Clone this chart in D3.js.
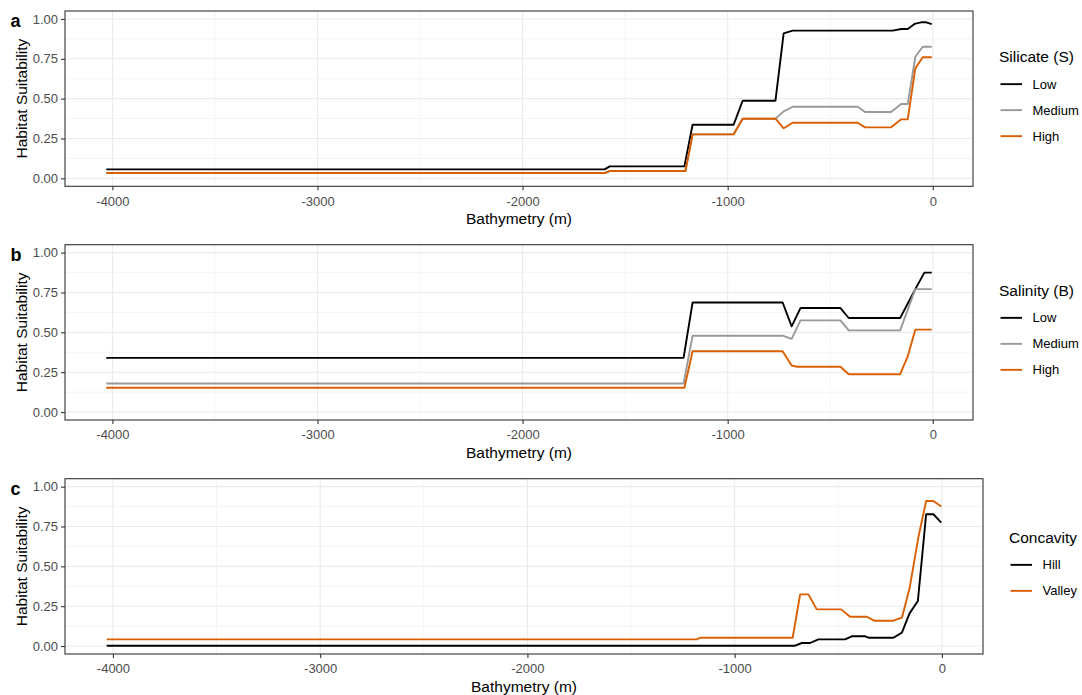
<!DOCTYPE html>
<html>
<head>
<meta charset="utf-8">
<script src="https://cdn.jsdelivr.net/npm/d3@7"></script>
<style>
  html, body { margin: 0; padding: 0; background: #fff; }
  svg text { font-family: "Liberation Sans", Arial, Helvetica, sans-serif; }
</style>
</head>
<body>
<svg id="chart" width="1082" height="695"></svg>
<script>
// Habitat suitability response curves along bathymetry (m)

// Tick values
const xTicks = [-4000, -3000, -2000, -1000, 0];
const xMinorTicks = [-3500, -2500, -1500, -500];
const yTicks = [0, 0.25, 0.5, 0.75, 1];
const yMinorTicks = [0.125, 0.375, 0.625, 0.875];

// Panel a: Silicate (S) — [depth, suitability]
const silicateLow = [[-4030, 0.056], [-1600, 0.056], [-1575, 0.075], [-1211, 0.075], [-1171, 0.336], [-971, 0.336], [-927, 0.487], [-767, 0.487], [-727, 0.910], [-683, 0.927], [-195, 0.927], [-154, 0.937], [-122, 0.937], [-89, 0.969], [-57, 0.979], [-32, 0.979], [-5, 0.967]];
const silicateMedium = [[-4030, 0.033], [-1600, 0.033], [-1575, 0.046], [-1206, 0.046], [-1171, 0.276], [-971, 0.276], [-927, 0.374], [-767, 0.374], [-727, 0.420], [-683, 0.449], [-366, 0.449], [-330, 0.416], [-203, 0.416], [-154, 0.466], [-122, 0.466], [-85, 0.763], [-49, 0.826], [-5, 0.826]];
const silicateHigh = [[-4030, 0.033], [-1600, 0.033], [-1575, 0.046], [-1206, 0.046], [-1171, 0.276], [-971, 0.276], [-927, 0.374], [-767, 0.374], [-727, 0.314], [-683, 0.349], [-366, 0.349], [-330, 0.320], [-203, 0.320], [-154, 0.370], [-122, 0.370], [-85, 0.690], [-49, 0.760], [-5, 0.760]];

// Panel b: Salinity (B)
const salinityLow = [[-4030, 0.340], [-1215, 0.340], [-1171, 0.6875], [-732, 0.6875], [-688, 0.5375], [-645, 0.6525], [-450, 0.6525], [-410, 0.590], [-159, 0.590], [-85, 0.771], [-41, 0.875], [-5, 0.875]];
const salinityMedium = [[-4030, 0.179], [-1215, 0.179], [-1171, 0.479], [-732, 0.479], [-688, 0.459], [-645, 0.575], [-450, 0.575], [-410, 0.5125], [-159, 0.5125], [-85, 0.771], [-5, 0.771]];
const salinityHigh = [[-4030, 0.152], [-1211, 0.152], [-1171, 0.381], [-732, 0.381], [-688, 0.292], [-661, 0.284], [-450, 0.284], [-410, 0.2375], [-159, 0.2375], [-122, 0.350], [-85, 0.517], [-5, 0.517]];

// Panel c: Concavity
const concavityHill = [[-4030, 0.002], [-708, 0.002], [-676, 0.019], [-636, 0.019], [-596, 0.042], [-467, 0.042], [-435, 0.061], [-370, 0.061], [-354, 0.052], [-234, 0.052], [-193, 0.084], [-156, 0.205], [-116, 0.282], [-76, 0.827], [-41, 0.827], [-3, 0.774]];
const concavityValley = [[-4030, 0.042], [-1183, 0.042], [-1167, 0.052], [-720, 0.052], [-684, 0.324], [-644, 0.324], [-604, 0.230], [-486, 0.230], [-443, 0.184], [-362, 0.184], [-327, 0.159], [-234, 0.159], [-193, 0.178], [-156, 0.362], [-113, 0.686], [-76, 0.910], [-41, 0.910], [-3, 0.875]];

const colLow = "#000000", colMid = "#999999", colHigh = "#d95f02";

const panels = [
  { tag: "a", top: 11, right: 973, legendTitle: "Silicate (S)",
    series: [
      { name: "Low", data: silicateLow, color: colLow },
      { name: "Medium", data: silicateMedium, color: colMid },
      { name: "High", data: silicateHigh, color: colHigh }] },
  { tag: "b", top: 244.7, right: 973, legendTitle: "Salinity (B)",
    series: [
      { name: "Low", data: salinityLow, color: colLow },
      { name: "Medium", data: salinityMedium, color: colMid },
      { name: "High", data: salinityHigh, color: colHigh }] },
  { tag: "c", top: 478.7, right: 983, legendTitle: "Concavity",
    series: [
      { name: "Hill", data: concavityHill, color: colLow },
      { name: "Valley", data: concavityValley, color: colHigh }] }
];

const svg = d3.select("#chart");
svg.append("rect").attr("width", 1082).attr("height", 695).attr("fill", "#fff");

const left = 65, panelH = 175.3;
const gridCol = "#ebebeb", frameCol = "#333333", tickTextCol = "#4d4d4d";

panels.forEach(p => {
  const bottom = p.top + panelH;
  const all = p.series.flatMap(s => s.data);
  const xExt = d3.extent(all, d => d[0]);
  const xPad = (xExt[1] - xExt[0]) * 0.05;
  const x = d3.scaleLinear().domain([xExt[0] - xPad, xExt[1] + xPad]).range([left, p.right]);
  const y = d3.scaleLinear().domain([-0.05, 1.05]).range([bottom, p.top]);

  const g = svg.append("g");

  // grid
  g.selectAll(".xminor").data(xMinorTicks).join("line")
    .attr("x1", d => x(d)).attr("x2", d => x(d)).attr("y1", p.top).attr("y2", bottom)
    .attr("stroke", gridCol).attr("stroke-width", 0.55);
  g.selectAll(".yminor").data(yMinorTicks).join("line")
    .attr("x1", left).attr("x2", p.right).attr("y1", d => y(d)).attr("y2", d => y(d))
    .attr("stroke", gridCol).attr("stroke-width", 0.55);
  g.selectAll(".xmajor").data(xTicks).join("line")
    .attr("x1", d => x(d)).attr("x2", d => x(d)).attr("y1", p.top).attr("y2", bottom)
    .attr("stroke", gridCol).attr("stroke-width", 1.1);
  g.selectAll(".ymajor").data(yTicks).join("line")
    .attr("x1", left).attr("x2", p.right).attr("y1", d => y(d)).attr("y2", d => y(d))
    .attr("stroke", gridCol).attr("stroke-width", 1.1);

  // curves
  const line = d3.line().x(d => x(d[0])).y(d => y(d[1]));
  p.series.forEach(s => {
    g.append("path").attr("d", line(s.data)).attr("fill", "none")
      .attr("stroke", s.color).attr("stroke-width", 1.9)
      .attr("stroke-linejoin", "round").attr("stroke-linecap", "butt");
  });

  // frame
  g.append("rect").attr("x", left).attr("y", p.top)
    .attr("width", p.right - left).attr("height", panelH)
    .attr("fill", "none").attr("stroke", frameCol).attr("stroke-width", 1.1);

  // axes
  const xAxis = d3.axisBottom(x).tickValues(xTicks).tickFormat(d3.format("d")).tickSizeInner(4).tickSizeOuter(0).tickPadding(3);
  const gx = g.append("g").attr("transform", `translate(0,${bottom})`).call(xAxis);
  gx.select(".domain").remove();
  gx.selectAll(".tick line").attr("stroke", frameCol).attr("stroke-width", 1.1);
  gx.selectAll(".tick text").attr("fill", tickTextCol).attr("font-size", "13px")
    .attr("font-family", null).attr("dy", "0.95em")
    .text(d => d < 0 ? "-" + Math.abs(d) : String(d));

  const yAxis = d3.axisLeft(y).tickValues(yTicks).tickFormat(d3.format(".2f")).tickSizeInner(4).tickSizeOuter(0).tickPadding(3);
  const gy = g.append("g").attr("transform", `translate(${left},0)`).call(yAxis);
  gy.select(".domain").remove();
  gy.selectAll(".tick line").attr("stroke", frameCol).attr("stroke-width", 1.1);
  gy.selectAll(".tick text").attr("fill", tickTextCol).attr("font-size", "13px").attr("font-family", null);

  // axis titles
  g.append("text").attr("x", (left + p.right) / 2).attr("y", bottom + 38)
    .attr("text-anchor", "middle").attr("font-size", "15.5px").attr("fill", "#000")
    .text("Bathymetry (m)");
  const cy = (p.top + bottom) / 2;
  g.append("text").attr("transform", `translate(27,${cy}) rotate(-90)`)
    .attr("text-anchor", "middle").attr("font-size", "15.5px").attr("fill", "#000")
    .text("Habitat Suitability");

  // panel tag
  g.append("text").attr("x", 10.5).attr("y", p.top + 16)
    .attr("font-size", "18px").attr("font-weight", "bold").attr("fill", "#000")
    .text(p.tag);

  // legend
  const n = p.series.length;
  const lx = p.right + 26;
  const itemStep = 26;
  const firstY = cy - 14.5 + (3 - n) * 13;
  g.append("text").attr("x", lx).attr("y", firstY - 27.5)
    .attr("dy", "0.35em").attr("font-size", "15.5px").attr("fill", "#000")
    .text(p.legendTitle);
  p.series.forEach((s, i) => {
    const ly = firstY + i * itemStep;
    g.append("line").attr("x1", lx + 1.5).attr("x2", lx + 23).attr("y1", ly).attr("y2", ly)
      .attr("stroke", s.color).attr("stroke-width", 1.9);
    g.append("text").attr("x", lx + 33.5).attr("y", ly).attr("dy", "0.35em")
      .attr("font-size", "13px").attr("fill", "#000").text(s.name);
  });
});
</script>
</body>
</html>
